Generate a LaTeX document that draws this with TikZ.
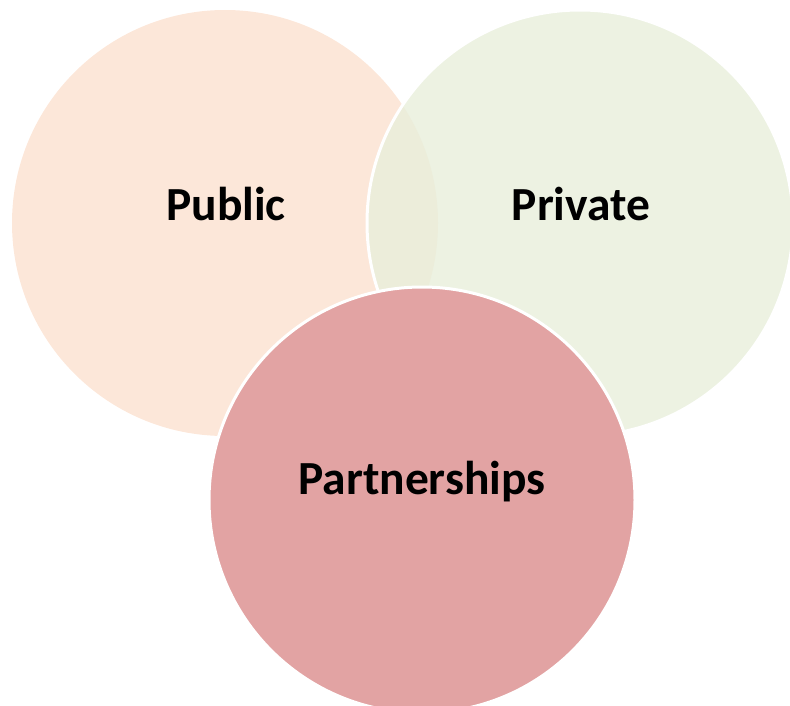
\documentclass[tikz,border=0pt]{standalone}
\usepackage{fontspec}
\setmainfont{Carlito}
\definecolor{publicfill}{HTML}{FCE7D9}
\definecolor{privatefill}{HTML}{E8EFDB}
\definecolor{partfill}{HTML}{E2A3A3}
\begin{document}
\begin{tikzpicture}[x=1pt,y=-1pt,
  venn/.style={circle, inner sep=0pt, minimum size=426pt},
  ring/.style={draw=white, line width=3pt},
  lbl/.style={font=\fontsize{47.5}{57}\selectfont\bfseries, text=black, inner sep=0pt}]
\useasboundingbox (0,0) rectangle (790,706);
\clip (0,0) rectangle (790,706);
\node[venn, fill=publicfill] (public) at (225,223) {};
\node[venn, fill=privatefill, fill opacity=0.8, ring] (private) at (580,223) {};
\node[venn, fill=partfill, ring] (part) at (422,500) {};
\node[lbl] (tpublic) at (226,204) {Public};
\node[lbl] (tprivate) at (581,204) {Private};
\node[lbl] (tpart) at (422,482) {Partnerships};
\end{tikzpicture}
\end{document}
